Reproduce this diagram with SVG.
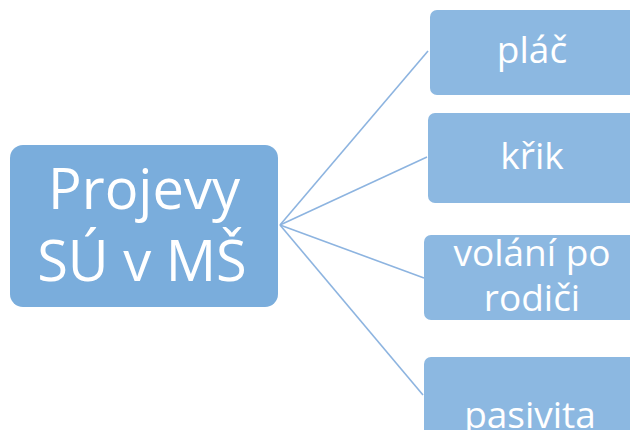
<svg xmlns="http://www.w3.org/2000/svg" width="630" height="430" viewBox="0 0 630 430">
<style>
.main{fill:#7aaddc}
.leaf{fill:#8cb8e1}
.conn line{stroke:#8db4e0;stroke-width:1.6;fill:none}
text{font-family:"Open Sans","Liberation Sans",sans-serif;fill:#ffffff;text-anchor:middle}
.big{font-size:56px}
.small{font-size:37px}
</style>
<rect width="630" height="430" fill="#ffffff"/>
<g class="conn" id="connectors">
<line x1="280" y1="225" x2="428" y2="51"/>
<line x1="280" y1="225" x2="427" y2="157"/>
<line x1="280" y1="225" x2="424" y2="278"/>
<line x1="280" y1="225" x2="423" y2="395"/>
</g>
<g id="root">
<rect class="main" x="10" y="145" width="268" height="162" rx="13"/>
<text class="big" x="144" y="209">Projevy</text>
<text class="big" x="142" y="281">SÚ v MŠ</text>
</g>
<g id="n1">
<rect class="leaf" x="430" y="10" width="215" height="85" rx="7"/>
<text class="small" x="532" y="63">pláč</text>
</g>
<g id="n2">
<rect class="leaf" x="428" y="113" width="217" height="90" rx="7"/>
<text class="small" x="532" y="169">křik</text>
</g>
<g id="n3">
<rect class="leaf" x="424" y="235" width="221" height="85" rx="7"/>
<text class="small" x="532" y="266">volání po</text>
<text class="small" x="532" y="311">rodiči</text>
</g>
<g id="n4">
<rect class="leaf" x="424" y="357" width="221" height="90" rx="7"/>
<text class="small" x="530" y="428">pasivita</text>
</g>
</svg>
